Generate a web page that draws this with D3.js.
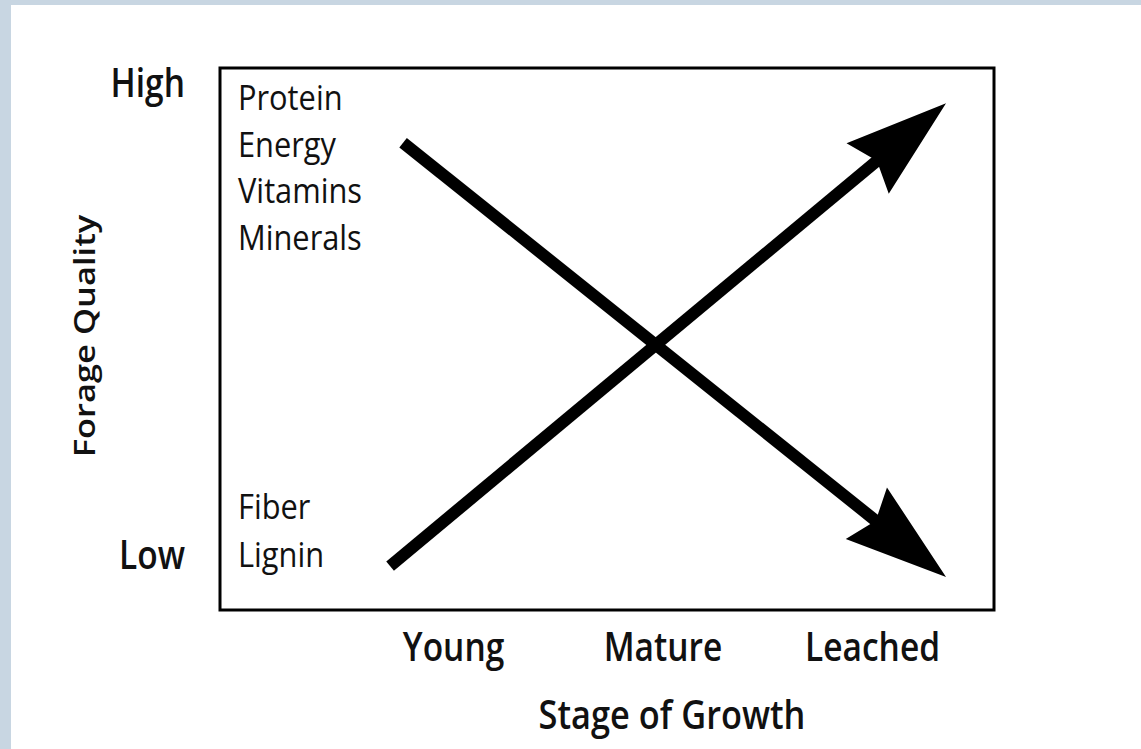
<!DOCTYPE html>
<html>
<head>
<meta charset="utf-8">
<script src="https://cdn.jsdelivr.net/npm/d3@7"></script>
<style>
  html, body { margin: 0; padding: 0; background: #fff; }
  svg { display: block; }
  text { font-family: "Open Sans", "Noto Sans", sans-serif; fill: #111; }
</style>
</head>
<body>
<div id="chart"></div>
<script>
// stages along the bottom, quality levels on the left
const stages = ["Young", "Mature", "Leached"];
const levels = ["Low", "High"];
const levelAt = [0.1, 0.97];
const highItems = ["Protein", "Energy", "Vitamins", "Minerals"];
const lowItems = ["Fiber", "Lignin"];

// the two trend arrows, x in stage index, y in quality 0..1
const declineX = [-0.241, 2.351];
const declineY = [0.862, 0.061];
const riseX = [-0.303, 2.351];
const riseY = [0.081, 0.935];

const width = 1141, height = 749;
const box = { left: 220, right: 994, top: 68, bottom: 610 };

const svg = d3.select('#chart').append('svg')
  .attr('width', width)
  .attr('height', height);

// blue-grey frame on top and left edge
svg.append('rect').attr('x', 0).attr('y', 0).attr('width', width).attr('height', 5).attr('fill', '#c8d6e2');
svg.append('rect').attr('x', 0).attr('y', 0).attr('width', 11).attr('height', height).attr('fill', '#c8d6e2');

const x = d3.scaleLinear().domain([-1.115, 2.58]).range([box.left, box.right]);
const y = d3.scaleLinear().domain([0, 1]).range([box.bottom, box.top]);

svg.append('rect')
  .attr('x', box.left).attr('y', box.top)
  .attr('width', box.right - box.left).attr('height', box.bottom - box.top)
  .attr('fill', 'none').attr('stroke', '#000').attr('stroke-width', 3);

// original lettering is narrow, so text gets squeezed sideways
function label(g, txt, px, py, opts) {
  const o = Object.assign({ size: 40, weight: 600, anchor: 'start', rot: 0, sx: 0.86 }, opts);
  g.append('text')
    .attr('transform', `translate(${px},${py}) scale(${o.sx},1)` + (o.rot ? ` rotate(${o.rot})` : ''))
    .attr('text-anchor', o.anchor)
    .attr('font-size', o.size)
    .attr('font-weight', o.weight)
    .text(txt);
}

const labels = svg.append('g').attr('class', 'labels');

// x tick labels
stages.forEach((s, i) => label(labels, s, x(i), 661, { anchor: 'middle', size: 39 }));
label(labels, 'Stage of Growth', 672, 729, { anchor: 'middle' });

// y level labels
levels.forEach((l, i) => label(labels, l, 185, y(levelAt[i]) + 13, { anchor: 'end', size: 39 }));
label(labels, 'Forage Quality', 95, (box.top + box.bottom) / 2 - 3, { anchor: 'middle', rot: -90, size: 34.5 });

// nutrient lists inside the box
highItems.forEach((t, i) => label(labels, t, 238, 110 + i * 46.7, { weight: 400, size: 35, sx: 0.88 }));
lowItems.forEach((t, i) => label(labels, t, 238, 519 + i * 47.5, { weight: 400, size: 35, sx: 0.88 }));

// arrows
const arrows = [
  { xs: declineX, ys: declineY },
  { xs: riseX, ys: riseY },
];
const headLen = 102, headHalf = 33, notch = 12, lineW = 12;

const ag = svg.append('g').attr('class', 'arrows');
arrows.forEach(a => {
  const x0 = x(a.xs[0]), y0 = y(a.ys[0]);
  const x1 = x(a.xs[1]), y1 = y(a.ys[1]);
  const len = Math.hypot(x1 - x0, y1 - y0);
  const ux = (x1 - x0) / len, uy = (y1 - y0) / len;
  const nx = -uy, ny = ux;
  const back = headLen - notch - 2;
  ag.append('line')
    .attr('x1', x0).attr('y1', y0)
    .attr('x2', x1 - ux * back).attr('y2', y1 - uy * back)
    .attr('stroke', '#000').attr('stroke-width', lineW);
  const pts = [
    [x1, y1],
    [x1 - ux * headLen + nx * headHalf, y1 - uy * headLen + ny * headHalf],
    [x1 - ux * (headLen - notch), y1 - uy * (headLen - notch)],
    [x1 - ux * headLen - nx * headHalf, y1 - uy * headLen - ny * headHalf],
  ];
  ag.append('path')
    .attr('d', d3.line()(pts) + 'Z')
    .attr('fill', '#000');
});
</script>
</body>
</html>
